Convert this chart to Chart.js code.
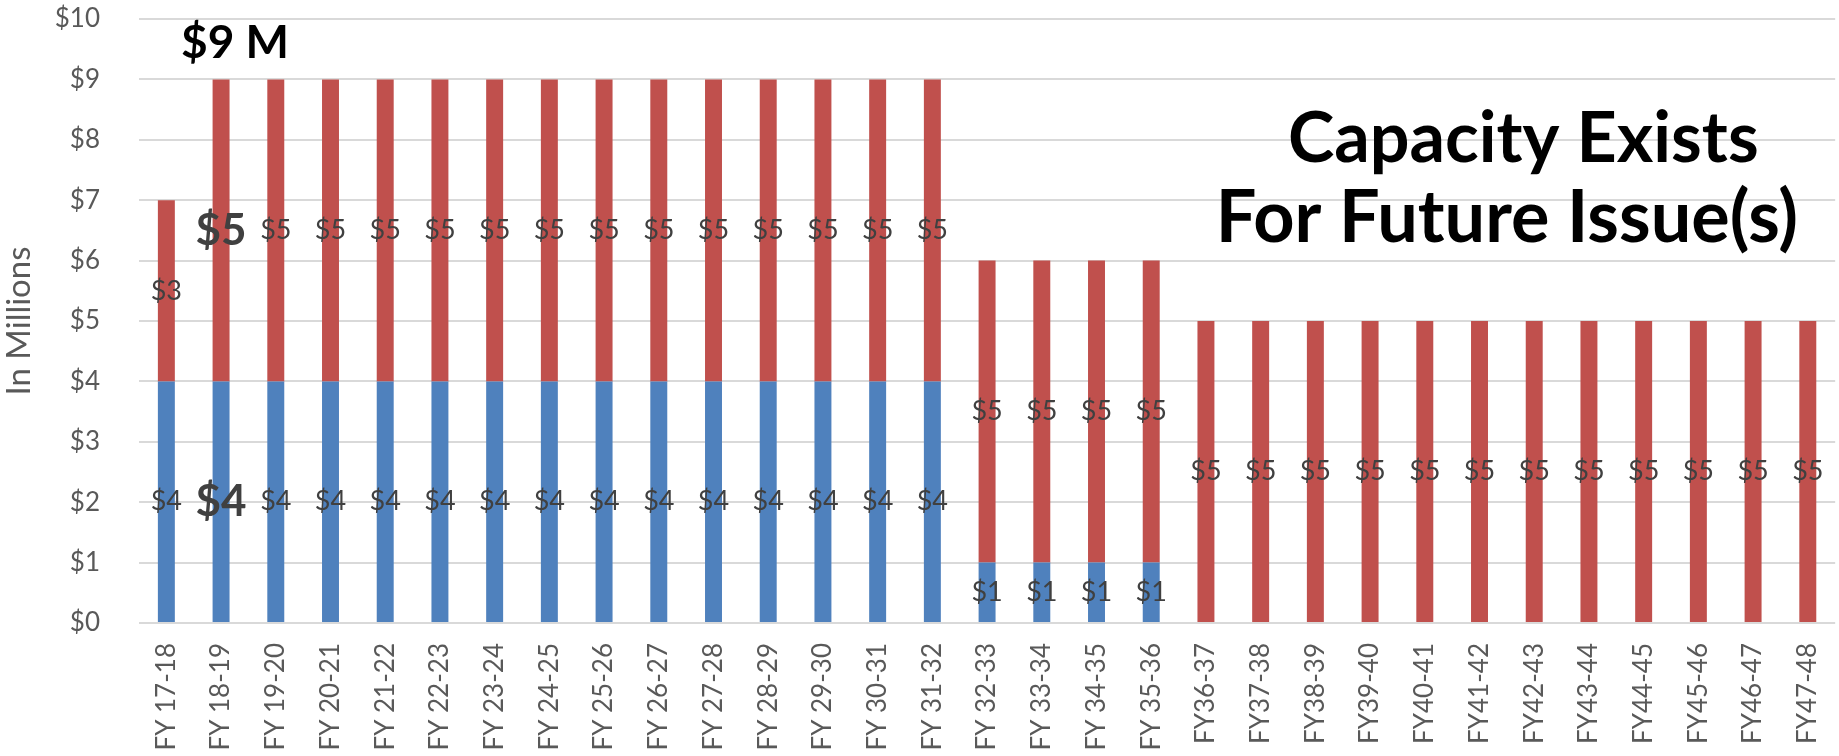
<!DOCTYPE html>
<html>
<head>
<meta charset="utf-8">
<script src="https://cdn.jsdelivr.net/npm/chart.js@4/dist/chart.umd.min.js"></script>
<style>
  html, body { margin: 0; padding: 0; background: #fff; overflow: hidden; }
  #wrap { width: 1839px; height: 756px; position: relative; }
  canvas { display: block; }
</style>
</head>
<body>
<div id="wrap"><canvas id="debt-chart"></canvas></div>
<script>
const years = [
  'FY 17-18', 'FY 18-19', 'FY 19-20', 'FY 20-21', 'FY 21-22', 'FY 22-23', 'FY 23-24',
  'FY 24-25', 'FY 25-26', 'FY 26-27', 'FY 27-28', 'FY 28-29', 'FY 29-30', 'FY 30-31',
  'FY 31-32', 'FY 32-33', 'FY 33-34', 'FY 34-35', 'FY 35-36', 'FY36-37', 'FY37-38',
  'FY38-39', 'FY39-40', 'FY40-41', 'FY41-42', 'FY42-43', 'FY43-44', 'FY44-45',
  'FY45-46', 'FY46-47', 'FY47-48'
];
// blue = existing issue, red = second series (in millions)
const blueValues = [4, 4, 4, 4, 4, 4, 4, 4, 4, 4, 4, 4, 4, 4, 4, 1, 1, 1, 1,
  null, null, null, null, null, null, null, null, null, null, null, null];
const redValues = [3, 5, 5, 5, 5, 5, 5, 5, 5, 5, 5, 5, 5, 5, 5, 5, 5, 5, 5,
  5, 5, 5, 5, 5, 5, 5, 5, 5, 5, 5, 5];
const yTicks = [0, 1, 2, 3, 4, 5, 6, 7, 8, 9, 10];
const highlightIndex = 1;
const calloutText = '$9 M';
const noteLines = ['Capacity Exists', 'For Future Issue(s)'];

const FONT = 'Lato, "Open Sans", sans-serif';

const barLabels = {
  id: 'barLabels',
  afterDatasetsDraw(chart) {
    const ctx = chart.ctx;
    ctx.save();
    ctx.textAlign = 'center';
    ctx.textBaseline = 'middle';
    ctx.fillStyle = '#404040';
    chart.data.datasets.forEach((ds, di) => {
      const meta = chart.getDatasetMeta(di);
      meta.data.forEach((bar, i) => {
        const v = ds.data[i];
        if (!v) return;
        const p = bar.getProps(['x', 'y', 'base'], true);
        ctx.font = i === highlightIndex ? 'bold 44px ' + FONT : '27px ' + FONT;
        ctx.fillText('$' + v, p.x, (p.y + p.base) / 2);
      });
    });

    const xs = chart.scales.x, ys = chart.scales.y;
    ctx.fillStyle = '#000';
    ctx.font = 'bold 46px ' + FONT;
    ctx.fillText(calloutText, xs.getPixelForValue(highlightIndex) + 14, ys.getPixelForValue(9.6));

    ctx.font = 'bold 70px ' + FONT;
    ctx.fillText(noteLines[0], xs.getPixelForValue(24.8), ys.getPixelForValue(8.0));
    ctx.font = 'bold 72px ' + FONT;
    ctx.fillText(noteLines[1], xs.getPixelForValue(24.5), ys.getPixelForValue(6.7));
    ctx.restore();
  }
};

new Chart(document.getElementById('debt-chart').getContext('2d'), {
  type: 'bar',
  data: {
    labels: years,
    datasets: [
      { label: 'Existing', data: blueValues, backgroundColor: '#4F81BD',
        barPercentage: 0.31, categoryPercentage: 1 },
      { label: 'Capacity', data: redValues, backgroundColor: '#C0504D',
        barPercentage: 0.31, categoryPercentage: 1 }
    ]
  },
  options: {
    responsive: true,
    maintainAspectRatio: false,
    animation: false,
    layout: { padding: { top: 19, right: 0, left: 0, bottom: 0 } },
    plugins: {
      legend: { display: false },
      tooltip: { enabled: false }
    },
    scales: {
      x: {
        stacked: true,
        grid: { display: false, drawTicks: true, tickLength: 20 },
        border: { display: false },
        ticks: {
          minRotation: 90, maxRotation: 90, autoSkip: false,
          padding: 0, color: '#595959', font: { family: FONT, size: 26 }
        },
        afterFit(scale) { scale.height = 133; }
      },
      y: {
        stacked: true,
        min: 0, max: 10,
        afterBuildTicks(scale) { scale.ticks = yTicks.map(v => ({ value: v })); },
        grid: { color: '#D9D9D9', lineWidth: 2, drawTicks: true, tickLength: 39, tickColor: 'rgba(0,0,0,0)' },
        border: { display: false },
        ticks: {
          padding: 0, color: '#595959', font: { family: FONT, size: 26 },
          callback: v => '$' + v
        },
        title: {
          display: true, text: 'In Millions', color: '#595959',
          font: { family: FONT, size: 33 }, padding: { top: 0, bottom: 0 }
        },
        afterFit(scale) { scale.width = 139; }
      }
    }
  },
  plugins: [barLabels]
});
</script>
</body>
</html>
